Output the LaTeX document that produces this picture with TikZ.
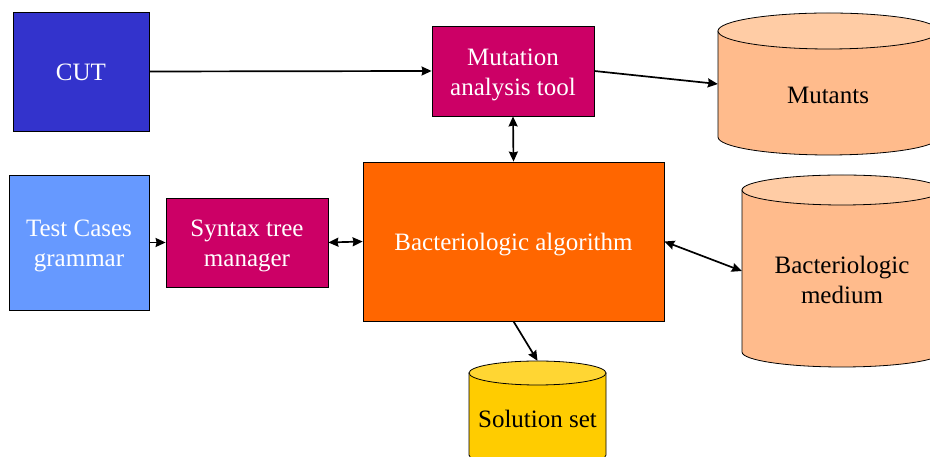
\documentclass[tikz,border=0pt]{standalone}
\usepackage{fontspec}
\setmainfont{Liberation Serif}
\usetikzlibrary{arrows.meta}
\definecolor{cutblue}{HTML}{3333CC}
\definecolor{testblue}{HTML}{6699FF}
\definecolor{magbox}{HTML}{CC0066}
\definecolor{orabox}{HTML}{FF6600}
\definecolor{peachbody}{HTML}{FFBB8C}
\definecolor{peachtop}{HTML}{FFCCA5}
\definecolor{solbody}{HTML}{FFCC00}
\definecolor{soltop}{HTML}{FFD633}
\tikzset{
  box/.style={draw=black, line width=0.8pt, rectangle, inner sep=0pt},
  wtxt/.style={text=white, align=center, font=\fontsize{25}{30}\selectfont, yshift=-3.5pt, inner sep=0pt},
  ghost/.style={rectangle, inner sep=0pt, draw=none},
  lbl/.style={align=center, font=\fontsize{25}{30}\selectfont, text=black},
  conn/.style={line width=1.7pt, -{Stealth[length=10pt,width=9pt,inset=1pt]}},
  biconn/.style={line width=1.7pt, {Stealth[length=10pt,width=9pt,inset=1pt]}-{Stealth[length=10pt,width=9pt,inset=1pt]}},
  cyl/.style={draw=black, line width=0.8pt}
}
\begin{document}
\begin{tikzpicture}[x=1pt,y=1pt]
\useasboundingbox (0,0) rectangle (930,457);
\fill[white] (0,0) rectangle (930,457);
\begin{scope}
\clip (0,0) rectangle (930,457);
% Mutants cylinder
\filldraw[cyl, fill=peachbody] (718,426) -- (718,320) arc[start angle=180, end angle=360, x radius=110.5pt, y radius=18pt] -- (939,426) -- cycle;
\filldraw[cyl, fill=peachtop] (828.5,426) ellipse[x radius=110.5pt, y radius=18pt];
% Medium cylinder
\filldraw[cyl, fill=peachbody] (742,267) -- (742,105) arc[start angle=180, end angle=360, x radius=100pt, y radius=15pt] -- (942,267) -- cycle;
\filldraw[cyl, fill=peachtop] (842,267) ellipse[x radius=100pt, y radius=15pt];
% Solution cylinder
\filldraw[cyl, fill=solbody] (469,84) -- (469,2) arc[start angle=180, end angle=360, x radius=68.5pt, y radius=12pt] -- (606,84) -- cycle;
\filldraw[cyl, fill=soltop] (537.5,84) ellipse[x radius=68.5pt, y radius=12pt];
\end{scope}
% anchor nodes for cylinders
\node[ghost, minimum width=221pt, minimum height=106pt] (mut) at (828.5,373) {};
\node[ghost, minimum width=200pt, minimum height=162pt] (med) at (842,186) {};
\node[ghost, minimum width=137pt, minimum height=94pt] (sol) at (537.5,49) {};
\node[lbl] (mutl) at (828,362) {Mutants};
\node[lbl] (medl) at (842,177) {Bacteriologic\\medium};
\node[lbl] (soll) at (537.5,38) {Solution set};
% boxes
\node[box, fill=cutblue, minimum width=136pt, minimum height=119pt,
  label={[wtxt, yshift=2.5pt]center:CUT}] (cut) at (81,385.5) {};
\node[box, fill=magbox, minimum width=162pt, minimum height=90pt,
  label={[wtxt]center:{Mutation\\analysis tool}}] (mat) at (513,386) {};
\node[box, fill=testblue, minimum width=140pt, minimum height=135pt,
  label={[wtxt]center:{Test Cases\\grammar}}] (test) at (79,214.5) {};
\node[box, fill=magbox, minimum width=162pt, minimum height=89pt,
  label={[wtxt]center:{Syntax tree\\manager}}] (syn) at (247,214.5) {};
\node[box, fill=orabox, minimum width=301pt, minimum height=159pt,
  label={[wtxt]center:{Bacteriologic algorithm}}] (bact) at (513.5,215.5) {};
% connectors
\draw[conn] (cut.east) -- (mat.west);
\draw[conn] (mat.east) -- (mut.west);
\draw[biconn] (mat.south) -- (bact.north);
\draw[conn] (test.east) -- (syn.west);
\draw[biconn] (syn.east) -- (bact.west);
\draw[biconn] (bact.east) -- (med.west);
\draw[conn] (bact.south) -- (sol.north);
\end{tikzpicture}
\end{document}
